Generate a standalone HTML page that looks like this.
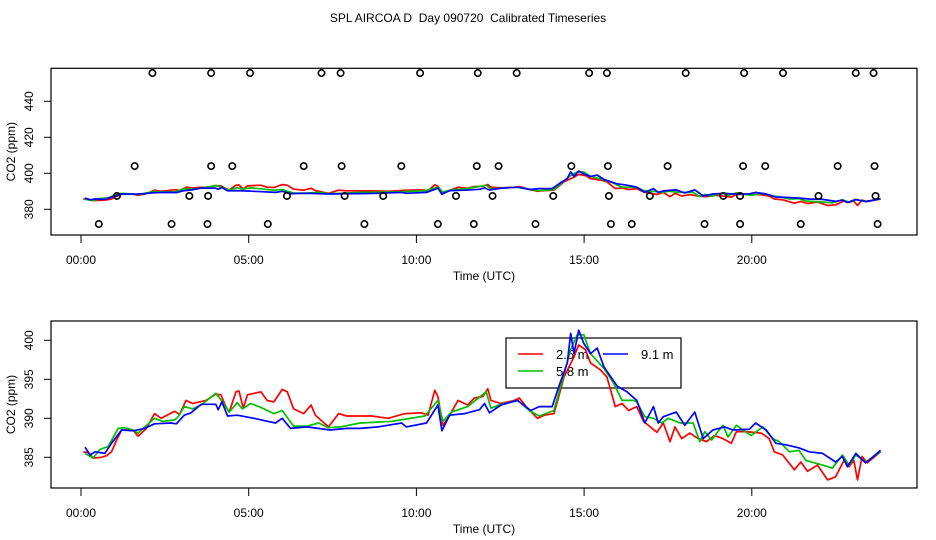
<!DOCTYPE html>
<html><head><meta charset="utf-8"><style>
body{margin:0;background:#fff;}
svg{display:block;font-family:"Liberation Sans",sans-serif;}
</style></head><body>
<svg id="chart" width="936" height="540" viewBox="0 0 936 540">
<text x="468" y="22" font-size="12" text-anchor="middle" style="white-space:pre" xml:space="preserve">SPL AIRCOA D  Day 090720  Calibrated Timeseries</text>
<g id="top"></g>
<g id="bot"></g>
</svg>
<script>
const xTicks=[0,5,10,15,20];
const xTickLabels=["00:00","05:00","10:00","15:00","20:00"];
const topYTicks=[380,400,420,440];
const botYTicks=[385,390,395,400];
const seriesNames=["2.5 m","5.8 m","9.1 m"];
const seriesColors=["#ff0000","#00c000","#0000ff"];
const redT=[0.07,0.22,0.36,0.61,0.76,0.91,1.06,1.21,1.55,1.70,1.95,2.19,2.39,2.79,2.94,3.13,3.33,3.53,3.73,4.02,4.17,4.32,4.42,4.62,4.71,4.84,4.96,5.36,5.55,5.75,6.00,6.15,6.34,6.64,6.86,6.99,7.38,7.68,7.92,8.32,8.67,9.16,9.66,10.15,10.35,10.55,10.64,10.79,10.94,11.24,11.53,11.73,11.98,12.13,12.22,12.52,12.92,13.07,13.31,13.61,13.81,14.10,14.20,14.40,14.70,14.84,15.04,15.19,15.49,15.68,15.93,16.13,16.33,16.57,16.77,17.17,17.36,17.56,17.71,17.91,18.15,18.40,18.65,18.89,19.14,19.39,19.54,19.83,20.28,20.52,20.67,20.92,21.27,21.46,21.66,21.96,22.26,22.50,22.75,22.90,23.04,23.15,23.29,23.44,23.84];
const redV=[385.7,385.6,384.9,385.0,385.2,385.7,387.2,388.5,388.5,387.7,388.7,390.6,390.0,390.9,390.5,392.3,391.9,392.1,392.3,393.1,393.0,391.5,390.8,393.4,393.5,391.3,393.0,393.4,392.3,392.1,393.7,393.4,391.2,390.6,391.7,390.4,388.9,390.6,390.3,390.3,390.3,390.0,390.6,390.7,390.4,393.6,392.8,389.1,390.0,392.3,391.7,392.6,392.8,393.8,392.3,391.9,392.3,392.6,391.3,390.0,390.4,390.6,392.1,395.3,397.9,399.4,398.8,397.1,396.2,395.3,391.5,391.9,391.0,391.5,389.6,388.2,389.4,387.0,388.9,387.4,388.1,387.4,387.0,387.8,387.4,386.8,388.3,388.3,388.1,387.4,385.7,385.3,383.4,384.4,383.2,384.0,382.1,382.5,384.6,383.8,384.6,382.1,385.1,384.3,385.7];
const greenT=[0.12,0.36,0.56,0.81,1.11,1.30,1.55,1.70,2.19,2.44,2.79,2.88,3.08,3.33,3.58,4.02,4.22,4.42,4.66,4.81,5.06,5.36,5.75,6.00,6.34,6.74,7.09,7.38,7.73,8.32,9.26,10.25,10.64,10.79,11.04,11.53,12.08,12.22,12.52,13.02,13.36,13.66,14.10,14.30,14.60,14.79,14.99,15.19,15.59,15.88,16.13,16.47,16.57,16.81,17.07,17.31,17.51,17.86,18.25,18.45,18.60,18.80,18.99,19.14,19.29,19.54,19.98,20.33,20.63,20.82,21.12,21.41,21.61,22.11,22.40,22.70,22.90,23.10,23.39,23.84];
const greenV=[385.5,384.9,386.0,386.4,388.7,388.8,388.5,388.1,390.0,389.6,389.8,390.1,391.5,391.2,391.7,393.2,392.1,390.8,392.0,391.2,391.9,391.4,390.6,391.0,389.0,389.0,389.4,388.8,388.9,389.4,389.6,390.3,392.3,389.6,390.8,391.5,393.4,391.3,391.8,392.3,391.0,390.3,391.0,394.1,398.8,400.7,400.7,398.3,396.4,394.5,392.3,392.3,392.1,390.2,390.0,389.4,390.0,389.4,389.4,387.0,388.3,387.2,388.3,389.1,387.6,389.1,387.8,388.9,387.4,387.0,385.7,385.9,384.6,384.0,383.6,385.3,384.0,385.3,384.4,385.7];
const blueT=[0.12,0.27,0.42,0.71,0.91,1.21,1.55,1.90,2.19,2.69,2.84,3.08,3.28,3.58,4.02,4.09,4.20,4.37,4.66,5.16,5.46,5.80,6.00,6.25,6.74,7.43,7.92,8.32,8.86,9.56,9.70,10.30,10.64,10.76,10.99,11.44,11.88,12.03,12.18,12.52,13.02,13.41,13.66,14.05,14.25,14.50,14.60,14.70,14.84,14.99,15.19,15.39,15.59,15.99,16.28,16.57,16.81,17.07,17.21,17.36,17.75,18.00,18.30,18.55,18.84,19.19,19.44,19.93,20.11,20.43,20.72,21.02,21.41,21.71,22.11,22.50,22.70,22.85,23.10,23.39,23.49,23.84];
const blueV=[386.3,385.3,385.7,385.5,386.8,388.5,388.4,388.7,389.3,389.4,389.3,390.4,390.7,391.8,391.8,391.1,392.1,390.3,390.4,390.0,389.7,389.4,390.0,388.7,388.9,388.5,388.7,388.7,388.9,389.4,388.9,389.4,391.7,388.4,390.4,390.6,391.1,391.9,390.7,391.7,392.3,391.0,391.5,391.5,394.1,397.1,400.9,398.3,401.3,399.6,398.3,399.0,396.6,394.1,393.4,392.3,389.4,391.5,389.4,390.2,390.8,389.1,390.8,387.4,388.5,388.9,388.5,388.6,389.4,388.5,386.8,386.6,386.2,385.7,385.5,384.4,385.1,383.8,385.5,384.3,384.6,385.9];
const circT=[2.13,3.88,5.04,7.17,7.74,10.11,11.83,12.99,15.15,15.68,18.03,19.77,20.93,23.10,23.63,1.60,3.88,4.51,6.64,7.77,9.55,11.80,12.45,14.62,15.71,17.49,19.74,20.40,22.56,23.66,1.07,3.23,3.79,6.14,7.86,9.01,11.18,12.27,14.08,15.74,16.96,19.15,19.65,21.99,23.69,0.53,2.70,3.77,5.57,8.45,10.64,11.71,13.55,15.80,16.42,18.59,19.65,21.46,23.75];
const circV=[455.7,455.7,455.7,455.7,455.7,455.7,455.7,455.7,455.7,455.7,455.7,455.7,455.7,455.7,455.7,404,404,404,404,404,404,404,404,404,404,404,404,404,404,404,387.4,387.4,387.4,387.4,387.4,387.4,387.4,387.4,387.4,387.4,387.4,387.4,387.4,387.4,387.4,371.8,371.8,371.8,371.8,371.8,371.8,371.8,371.8,371.8,371.8,371.8,371.8,371.8,371.8];

const NS="http://www.w3.org/2000/svg";
function mk(tag,attrs,parent){const e=document.createElementNS(NS,tag);for(const k in attrs)e.setAttribute(k,attrs[k]);parent.appendChild(e);return e;}
const xs=h=>81+h*33.54;
const L=51,R=917;
function panel(g,top,bot,yOf,yTicks,name){
  const box=mk('rect',{x:L,y:top,width:R-L,height:bot-top,fill:'none',stroke:'#000','stroke-width':1.2},g);
  
  
  xTicks.forEach((t,i)=>{
    const tk=mk('line',{x1:xs(t),x2:xs(t),y1:bot,y2:bot+8,stroke:'#000','stroke-width':1},g);
    
    
    const tl=mk('text',{x:xs(t),y:bot+29,'font-size':12,'text-anchor':'middle'},g);tl.textContent=xTickLabels[i];
    
    
  });
  yTicks.forEach(v=>{
    const y=yOf(v);
    const tk=mk('line',{x1:L-7,x2:L,y1:y,y2:y,stroke:'#000','stroke-width':1},g);
    
    
    const tl=mk('text',{x:0,y:0,'font-size':12,'text-anchor':'middle',transform:`translate(33,${y}) rotate(-90)`},g);tl.textContent=v;
    
    
  });
  const xt=mk('text',{x:484,y:bot+45,'font-size':12,'text-anchor':'middle'},g);xt.textContent="Time (UTC)";
  
  
  const yt=mk('text',{x:0,y:0,'font-size':12,'text-anchor':'middle',transform:`translate(15,${(top+bot)/2}) rotate(-90)`},g);yt.textContent="CO2 (ppm)";
  
  
}
function series(g,yOf,name){
  [[redT,redV],[greenT,greenV],[blueT,blueV]].forEach((s,i)=>{
    const d=s[0].map((t,j)=>(j?'L':'M')+xs(t).toFixed(1)+' '+yOf(s[1][j]).toFixed(1)).join(' ');
    const p=mk('path',{d:d,fill:'none',stroke:seriesColors[i],'stroke-width':1.7,'stroke-linejoin':'round'},g);
    
    
  });
}
const gt=document.getElementById('top');
const yTop=v=>209.3+(380-v)*1.8;
panel(gt,68.3,235,yTop,topYTicks,'top');
series(gt,yTop,'top');
circT.forEach((t,i)=>{
  const c=mk('circle',{cx:xs(t),cy:yTop(circV[i]),r:3.2,fill:'none',stroke:'#000','stroke-width':1.6},gt);
  
  
});
const gb=document.getElementById('bot');
const yBot=v=>340.3+(400-v)*7.8;
panel(gb,321,488,yBot,botYTicks,'bottom');
const lg=mk('g',{},gb);


mk('rect',{x:506,y:338,width:175,height:50,fill:'none',stroke:'#000','stroke-width':1.2},lg);
[[518,354,556],[518,371,556],[603,354,641]].forEach((p,i)=>{
  const ln=mk('line',{x1:p[0],x2:p[0]+25,y1:p[1],y2:p[1],stroke:seriesColors[i],'stroke-width':1.5},lg);
  
  
  const tx=mk('text',{x:p[2],y:p[1]+5,'font-size':13},lg);tx.textContent=seriesNames[i];
  
  
});
series(gb,yBot,'bottom');
</script>
</body></html>
